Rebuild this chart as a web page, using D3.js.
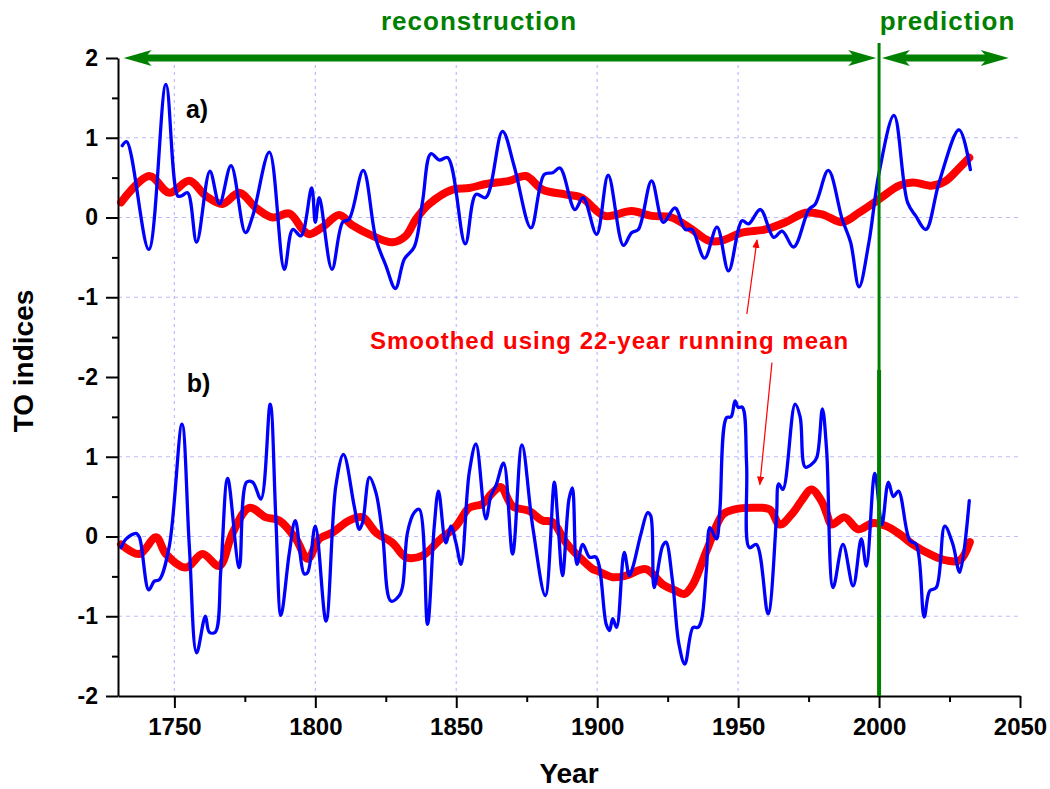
<!DOCTYPE html>
<html>
<head>
<meta charset="utf-8">
<script src="https://cdn.jsdelivr.net/npm/d3@7"></script>
<style>
  body { margin: 0; background: #fff; }
  text { font-family: Arial, "Liberation Sans", sans-serif; font-weight: bold; }
</style>
</head>
<body>
<script>
// panel a) TO index and its 22-year running mean  [year, value]
const rawA = [
  [1731.5, 0.90], [1733.1, 0.95], [1740.9, -0.40], [1747.0, 1.67], [1751.2, 0.27], [1752.5, 0.27],
  [1754.7, 0.31], [1757.9, -0.31], [1762.6, 0.58], [1766.0, 0.17], [1770.1, 0.65], [1775.2, -0.19],
  [1777.8, 0.02], [1783.7, 0.82], [1789.0, -0.65], [1792.0, -0.15], [1794.9, -0.23], [1798.7, 0.37],
  [1800.0, -0.06], [1801.4, 0.25], [1805.9, -0.65], [1809.7, -0.06], [1812.0, -0.02], [1817.0, 0.59],
  [1821.5, -0.27], [1825.0, -0.60], [1828.4, -0.89], [1831.6, -0.52], [1835.1, -0.37], [1838.0, 0.19],
  [1841.0, 0.80], [1844.0, 0.72], [1847.0, 0.75], [1853.2, -0.33], [1857.0, 0.29], [1860.5, 0.25],
  [1866.4, 1.08], [1870.5, 0.65], [1876.5, -0.13], [1881.2, 0.54], [1884.2, 0.56], [1886.8, 0.62],
  [1892.1, 0.10], [1895.0, 0.25], [1899.8, -0.21], [1903.9, 0.53], [1909.3, -0.35], [1912.2, -0.19],
  [1914.6, -0.15], [1919.3, 0.46], [1923.5, -0.06], [1927.6, 0.12], [1931.2, -0.15], [1933.6, -0.15],
  [1938.1, -0.51], [1942.5, -0.12], [1946.6, -0.67], [1951.4, -0.04], [1953.7, -0.08], [1957.9, 0.10],
  [1962.6, -0.25], [1965.6, -0.17], [1969.7, -0.37], [1975.1, 0.10], [1977.4, 0.17], [1982.0, 0.59],
  [1986.9, -0.02], [1989.9, -0.31], [1992.9, -0.87], [1996.4, -0.31], [2000.0, 0.56], [2005.3, 1.28],
  [2010.1, 0.19], [2013.0, 0.02], [2016.6, -0.15], [2021.3, 0.44], [2028.4, 1.10], [2032.4, 0.60]
];
const meanA = [
  [1731.1, 0.19], [1741.1, 0.52], [1748.2, 0.31], [1755.3, 0.46], [1761.2, 0.27], [1767.1, 0.17],
  [1773.0, 0.31], [1779.0, 0.12], [1784.9, 0.00], [1790.8, 0.05], [1795.5, -0.15], [1797.9, -0.21],
  [1802.6, -0.12], [1808.5, 0.03], [1813.2, -0.10], [1820.3, -0.23], [1827.4, -0.31], [1832.1, -0.23],
  [1835.7, -0.02], [1840.4, 0.17], [1848.7, 0.35], [1854.6, 0.37], [1860.5, 0.42], [1868.8, 0.46],
  [1874.7, 0.52], [1880.6, 0.35], [1888.5, 0.29], [1894.4, 0.25], [1902.7, 0.02], [1912.2, 0.08],
  [1919.3, 0.02], [1926.4, 0.00], [1933.6, -0.15], [1939.5, -0.29], [1944.2, -0.29], [1951.4, -0.19],
  [1959.7, -0.15], [1966.8, -0.06], [1973.9, 0.06], [1979.8, 0.04], [1986.9, -0.06], [1992.9, 0.06],
  [2000.0, 0.23], [2007.1, 0.40], [2011.9, 0.44], [2019.0, 0.40], [2023.7, 0.46], [2028.4, 0.62],
  [2032.0, 0.75]
];

// panel b)
const rawB = [
  [1731.1, -0.14], [1732.9, -0.03], [1736.4, 0.04], [1737.6, -0.01], [1740.9, -0.67], [1742.9, -0.56],
  [1744.7, -0.54], [1748.2, -0.12], [1752.7, 1.41], [1755.3, -0.12], [1757.9, -1.46], [1761.0, -1.00],
  [1762.4, -1.20], [1764.5, -1.20], [1766.5, -0.41], [1768.9, 0.73], [1773.0, -0.39], [1775.6, 0.68],
  [1777.8, 0.68], [1780.7, 0.47], [1784.0, 1.66], [1786.0, 0.22], [1787.8, -0.99], [1790.8, -0.20],
  [1792.9, 0.20], [1796.1, -0.47], [1797.3, -0.45], [1800.0, 0.13], [1803.8, -1.06], [1807.3, 0.64],
  [1810.0, 1.03], [1813.8, 0.38], [1815.6, 0.09], [1816.8, 0.18], [1819.2, 0.74], [1821.5, 0.55],
  [1823.9, 0.01], [1826.8, -0.81], [1829.8, -0.74], [1831.0, -0.62], [1832.7, 0.05], [1835.1, 0.30],
  [1836.9, 0.34], [1839.8, -1.10], [1842.2, 0.13], [1843.7, 0.57], [1846.3, -0.08], [1848.1, 0.13],
  [1849.9, -0.08], [1851.7, -0.35], [1854.6, 0.80], [1857.0, 1.16], [1860.5, 0.22], [1862.3, 0.51],
  [1864.1, 0.64], [1866.8, 0.92], [1870.0, -0.22], [1873.3, 1.15], [1877.1, 0.13], [1881.6, -0.74],
  [1884.8, 0.68], [1886.0, 0.22], [1887.7, -0.49], [1890.0, 0.47], [1891.2, 0.61], [1892.8, -0.35],
  [1894.9, -0.10], [1897.3, -0.26], [1899.6, -0.26], [1903.2, -1.10], [1904.4, -1.18], [1905.5, -1.03],
  [1906.9, -1.14], [1909.6, -0.20], [1911.4, -0.49], [1912.6, -0.39], [1915.5, 0.03], [1917.9, 0.30],
  [1919.0, 0.26], [1920.2, -0.64], [1923.2, -0.12], [1924.4, -0.07], [1926.7, -0.55], [1929.0, -1.35],
  [1931.1, -1.60], [1934.0, -1.14], [1935.8, -1.14], [1937.0, -1.05], [1938.8, -0.39], [1940.0, 0.11],
  [1942.3, -0.03], [1943.5, 0.32], [1945.9, 1.49], [1947.5, 1.50], [1948.9, 1.70], [1950.0, 1.62],
  [1951.5, 1.62], [1953.0, 0.91], [1954.0, -0.14], [1956.5, -0.10], [1960.6, -0.97], [1963.6, 0.24],
  [1964.4, 0.66], [1965.9, 0.59], [1970.2, 1.66], [1972.0, 1.50], [1973.8, 0.87], [1976.2, 0.91],
  [1977.9, 0.99], [1979.9, 1.60], [1981.4, 1.08], [1983.7, -0.64], [1987.2, -0.10], [1990.8, -0.62],
  [1993.7, -0.03], [1995.5, -0.37], [1998.5, 0.79], [2001.0, 0.15], [2003.3, 0.68], [2005.1, 0.50],
  [2006.9, 0.57], [2010.9, -0.05], [2013.2, -0.10], [2016.0, -1.01], [2018.0, -0.68], [2020.3, -0.64],
  [2023.3, 0.13], [2026.2, -0.10], [2028.6, -0.45], [2032.0, 0.45]
];
const meanB = [
  [1731.1, -0.10], [1737.6, -0.22], [1743.5, -0.01], [1747.0, -0.22], [1754.1, -0.39], [1760.0, -0.22],
  [1765.9, -0.37], [1770.7, 0.05], [1776.6, 0.36], [1782.5, 0.24], [1787.2, 0.20], [1793.1, -0.03],
  [1797.3, -0.28], [1801.4, -0.03], [1806.1, 0.05], [1812.0, 0.20], [1816.8, 0.24], [1821.5, 0.05],
  [1827.4, -0.08], [1832.1, -0.26], [1838.0, -0.24], [1843.9, -0.05], [1849.9, 0.13], [1854.6, 0.36],
  [1859.3, 0.41], [1862.9, 0.55], [1865.8, 0.62], [1870.0, 0.38], [1875.9, 0.32], [1880.6, 0.20],
  [1884.2, 0.18], [1889.0, -0.08], [1894.9, -0.30], [1898.5, -0.41], [1900.0, -0.43], [1905.5, -0.51],
  [1910.2, -0.49], [1917.3, -0.41], [1923.2, -0.60], [1927.9, -0.68], [1931.0, -0.72], [1934.0, -0.60],
  [1938.8, -0.18], [1944.7, 0.28], [1948.8, 0.34], [1955.3, 0.36], [1961.2, 0.34], [1964.8, 0.15],
  [1969.5, 0.30], [1972.5, 0.45], [1976.0, 0.59], [1979.5, 0.45], [1981.5, 0.28], [1983.1, 0.15],
  [1987.8, 0.24], [1992.6, 0.09], [1997.9, 0.17], [2002.6, 0.13], [2007.3, 0.03], [2012.0, -0.10],
  [2019.1, -0.24], [2023.9, -0.30], [2028.6, -0.30], [2032.2, -0.07]
];

// both panels share one value axis, panel a) is shifted up by 4 units
const offsetA = 4;
const xTicks = [1750, 1800, 1850, 1900, 1950, 2000, 2050];
const xMinor = [1775, 1825, 1875, 1925, 1975, 2025];
const yTicks = [-2, -1, 0, 1, 2, 3, 4, 5, 6];
const yTickLabels = ["-2", "-1", "0", "1", "-2", "-1", "0", "1", "2"];
const gridY = [-1, 0, 1, 3, 4, 5];
const gridX = [1750, 1800, 1850, 1900, 1950];
const periods = [
  {name: "reconstruction", from: 1732, to: 1999, labelAt: 1823.3},
  {name: "prediction", from: 2001, to: 2046, labelAt: 2000.2}
];
const boundaryYear = 2000;

const width = 1050;
const height = 789;

const x = d3.scaleLinear().domain([1730, 2050]).range([118, 1020]);
const y = d3.scaleLinear().domain([-2, 6]).range([696, 58]);

const svg = d3.select("body").append("svg")
    .attr("width", width)
    .attr("height", height);

const defs = svg.append("defs");
defs.append("marker")
    .attr("id", "redhead")
    .attr("viewBox", "0 0 10 10")
    .attr("refX", 9)
    .attr("refY", 5)
    .attr("markerWidth", 9)
    .attr("markerHeight", 9)
    .attr("markerUnits", "userSpaceOnUse")
    .attr("orient", "auto")
  .append("path")
    .attr("d", "M0,1L10,5L0,9Z")
    .attr("fill", "red");

// grid
svg.append("g")
  .selectAll("line")
  .data(gridY)
  .join("line")
    .attr("x1", x.range()[0])
    .attr("x2", x.range()[1])
    .attr("y1", d => y(d))
    .attr("y2", d => y(d))
    .attr("stroke", "#bcbcff")
    .attr("stroke-width", 1.2)
    .attr("stroke-dasharray", "4,4");

svg.append("g")
  .selectAll("line")
  .data(gridX)
  .join("line")
    .attr("x1", d => x(d))
    .attr("x2", d => x(d))
    .attr("y1", y.range()[1])
    .attr("y2", y.range()[0])
    .attr("stroke", "#bcbcff")
    .attr("stroke-width", 1.2)
    .attr("stroke-dasharray", "3,4");

// series
const line = offset => d3.line()
    .x(d => x(d[0]))
    .y(d => y(d[1] + offset))
    .curve(d3.curveCatmullRom.alpha(0.5));

const series = [
  {data: meanA, offset: offsetA, color: "#ff0000", w: 8},
  {data: meanB, offset: 0, color: "#ff0000", w: 8},
  {data: rawA, offset: offsetA, color: "#0000ff", w: 3.3},
  {data: rawB, offset: 0, color: "#0000ff", w: 3.3}
];

svg.append("g")
  .selectAll("path")
  .data(series)
  .join("path")
    .attr("fill", "none")
    .attr("stroke", d => d.color)
    .attr("stroke-width", d => d.w)
    .attr("stroke-linejoin", "round")
    .attr("stroke-linecap", "round")
    .attr("d", d => line(d.offset)(d.data));

// axes
const xAxis = svg.append("g")
    .attr("transform", `translate(0,${y.range()[0]})`)
    .call(d3.axisBottom(x).tickValues(xTicks).tickSize(12).tickSizeOuter(0).tickPadding(10).tickFormat(d3.format("d")));
svg.append("g")
    .attr("transform", `translate(0,${y.range()[0]})`)
    .call(d3.axisBottom(x).tickValues(xMinor).tickSize(6).tickFormat(""))
    .select(".domain").remove();

const yAxis = svg.append("g")
    .attr("transform", `translate(${x.range()[0]},0)`)
    .call(d3.axisLeft(y).tickValues(yTicks).tickSize(12).tickSizeOuter(0).tickPadding(8)
      .tickFormat((d, i) => yTickLabels[i]));
svg.append("g")
    .attr("transform", `translate(${x.range()[0]},0)`)
    .call(d3.axisLeft(y).tickValues(d3.range(-1.5, 6, 1)).tickSize(6).tickFormat(""))
    .select(".domain").remove();

svg.selectAll(".domain, .tick line")
    .attr("stroke", "#000")
    .attr("stroke-width", 2);
xAxis.selectAll("text")
    .attr("font-size", 24)
    .attr("font-family", "Arial, 'Liberation Sans', sans-serif")
    .attr("font-weight", "bold")
    .attr("fill", "#000");
yAxis.selectAll("text")
    .attr("font-size", 23)
    .attr("font-family", "Arial, 'Liberation Sans', sans-serif")
    .attr("font-weight", "bold")
    .attr("fill", "#000");

svg.append("text")
    .attr("x", (x.range()[0] + x.range()[1]) / 2)
    .attr("y", 783)
    .attr("text-anchor", "middle")
    .attr("font-size", 28)
    .text("Year");

svg.append("text")
    .attr("transform", "translate(33,361) rotate(-90)")
    .attr("text-anchor", "middle")
    .attr("font-size", 28)
    .text("TO indices");

// panel labels
svg.append("text")
    .attr("x", x(1754.1))
    .attr("y", y(5.25))
    .attr("font-size", 25)
    .text("a)");
svg.append("text")
    .attr("x", x(1754.4))
    .attr("y", y(1.81))
    .attr("font-size", 25)
    .text("b)");

// reconstruction / prediction
const green = "#008000";
svg.append("line")
    .attr("x1", x(boundaryYear))
    .attr("x2", x(boundaryYear))
    .attr("y1", 43)
    .attr("y2", 370)
    .attr("stroke", green)
    .attr("stroke-width", 3);
svg.append("line")
    .attr("x1", x(boundaryYear))
    .attr("x2", x(boundaryYear))
    .attr("y1", 370)
    .attr("y2", y.range()[0])
    .attr("stroke", green)
    .attr("stroke-width", 4);

const arrowY = y(6);
const head = (tip, dir) =>
  `M${tip},${arrowY}L${tip + dir * 28},${arrowY - 8}L${tip + dir * 21},${arrowY}L${tip + dir * 28},${arrowY + 8}Z`;

const arr = svg.append("g")
  .selectAll("g")
  .data(periods)
  .join("g");
arr.append("line")
    .attr("x1", d => x(d.from) + 15)
    .attr("x2", d => x(d.to) - 15)
    .attr("y1", arrowY)
    .attr("y2", arrowY)
    .attr("stroke", green)
    .attr("stroke-width", 7);
arr.append("path")
    .attr("d", d => head(x(d.from), 1) + head(x(d.to), -1))
    .attr("fill", green);
arr.append("text")
    .attr("x", d => x(d.labelAt))
    .attr("y", 30)
    .attr("font-size", 26)
    .attr("letter-spacing", 1)
    .attr("fill", green)
    .text(d => d.name);

// running mean annotation
svg.append("text")
    .attr("x", x(1819.4))
    .attr("y", y(2.35))
    .attr("font-size", 24)
    .attr("letter-spacing", 1)
    .attr("fill", "red")
    .text("Smoothed using 22-year running mean");

const notes = [
  [[1953.1, 2.79], [1956.7, 3.72]],
  [[1962.0, 2.18], [1957.7, 0.65]]
];
svg.append("g")
  .selectAll("line")
  .data(notes)
  .join("line")
    .attr("x1", d => x(d[0][0]))
    .attr("y1", d => y(d[0][1]))
    .attr("x2", d => x(d[1][0]))
    .attr("y2", d => y(d[1][1]))
    .attr("stroke", "red")
    .attr("stroke-width", 1.2)
    .attr("marker-end", "url(#redhead)");
</script>
</body>
</html>
